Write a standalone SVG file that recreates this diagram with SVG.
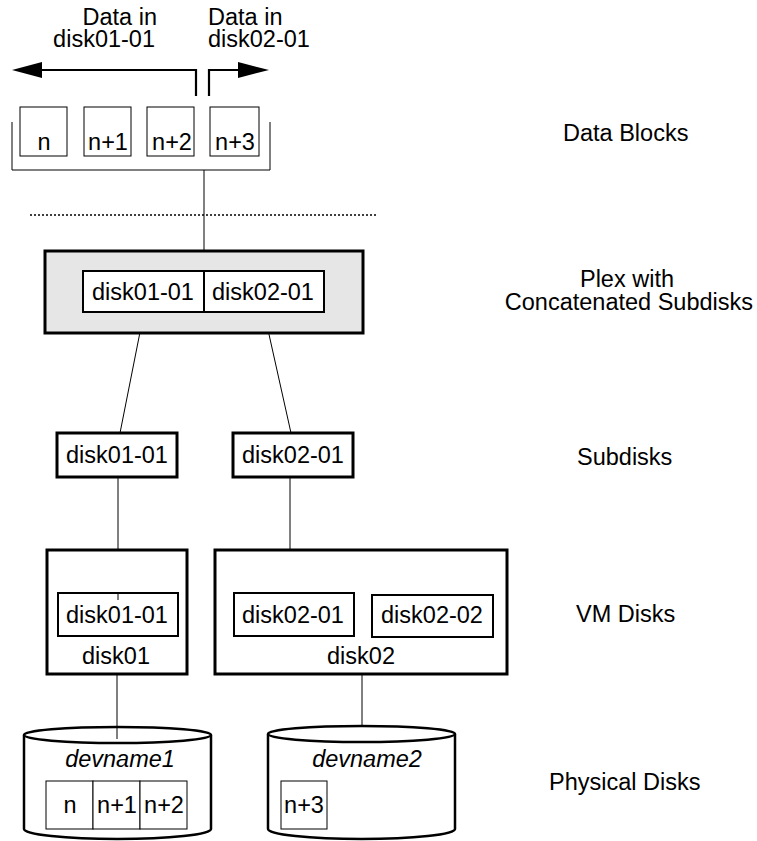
<svg xmlns="http://www.w3.org/2000/svg" width="757" height="841" viewBox="0 0 757 841">
<style>
text{font-family:"Liberation Sans",Arial,Helvetica,sans-serif;font-size:23.5px;fill:#000}
.c{text-anchor:middle}
.it{font-style:italic}
.thin{fill:#fff;stroke:#000;stroke-width:1}
.med{fill:#fff;stroke:#000;stroke-width:2}
.thick{fill:#fff;stroke:#000;stroke-width:3}
.ln{fill:none;stroke:#000;stroke-width:1}
.arr{fill:none;stroke:#000;stroke-width:2.2}
.cyl{fill:#fff;stroke:#000;stroke-width:2.5}
</style>
<rect width="757" height="841" fill="#fff"/>
<g id="connectors">
  <path class="arr" d="M196,96 V70 H40"/>
  <polygon points="12,70 42,62 42,78" fill="#000"/>
  <path class="arr" d="M209,96 V70 H240"/>
  <polygon points="269,70 238,62 238,78" fill="#000"/>
  <path class="ln" d="M12,122 V170 H270 V122"/>
  <line class="ln" x1="204" y1="170" x2="204" y2="251"/>
  <line x1="30" y1="215" x2="378" y2="215" stroke="#000" stroke-width="1.5" stroke-dasharray="2,2"/>
  <line class="ln" x1="144" y1="312" x2="120" y2="433"/>
  <line class="ln" x1="264" y1="312" x2="291" y2="433"/>
  <line class="ln" x1="118" y1="477" x2="118" y2="593"/>
  <line class="ln" x1="290" y1="477" x2="290" y2="593"/>
  <line class="ln" x1="117" y1="674" x2="117" y2="739"/>
  <line class="ln" x1="362" y1="674" x2="362" y2="726"/>
</g>
<g id="labels-top">
  <text x="157" y="25" text-anchor="end">Data in</text>
  <text x="155" y="47" text-anchor="end">disk01-01</text>
  <text x="208" y="25">Data in</text>
  <text x="208" y="47">disk02-01</text>
</g>
<g id="data-blocks">
  <rect class="thin" x="20" y="107" width="47" height="49"/>
  <text class="c" x="44" y="150">n</text>
  <rect class="thin" x="84" y="107" width="47" height="49"/>
  <text class="c" x="108" y="150">n+1</text>
  <rect class="thin" x="147" y="107" width="47" height="49"/>
  <text class="c" x="172" y="150">n+2</text>
  <rect class="thin" x="210" y="107" width="49" height="49"/>
  <text class="c" x="235" y="150">n+3</text>
</g>
<g id="plex">
  <rect x="45" y="251" width="318" height="82" fill="#e6e6e6" stroke="#000" stroke-width="3"/>
  <rect class="med" x="83" y="271" width="241" height="41"/>
  <line x1="204" y1="271" x2="204" y2="312" stroke="#000" stroke-width="2"/>
  <text class="c" x="143" y="300">disk01-01</text>
  <text class="c" x="263" y="300">disk02-01</text>
</g>
<g id="subdisk1">
  <rect class="thick" x="57" y="433" width="120" height="44"/>
  <text class="c" x="117" y="463">disk01-01</text>
</g>
<g id="subdisk2">
  <rect class="thick" x="233" y="433" width="120" height="44"/>
  <text class="c" x="293" y="463">disk02-01</text>
</g>
<g id="vmdisk1">
  <rect class="thick" x="47" y="550" width="140" height="124"/>
  <rect class="med" x="58" y="593" width="120" height="43"/>
  <line class="ln" x1="118" y1="593" x2="118" y2="600"/>
  <text class="c" x="117" y="623">disk01-01</text>
  <text class="c" x="116" y="664">disk01</text>
</g>
<g id="vmdisk2">
  <rect class="thick" x="215" y="550" width="292" height="124"/>
  <rect class="med" x="234" y="593" width="120" height="43"/>
  <text class="c" x="293" y="623">disk02-01</text>
  <rect class="med" x="372" y="595" width="121" height="42"/>
  <text class="c" x="432" y="623">disk02-02</text>
  <text class="c" x="361" y="664">disk02</text>
</g>
<g id="physdisk1">
  <path class="cyl" d="M24,735 V829 A93.5,10 0 0 0 211,829 V735"/>
  <ellipse class="cyl" cx="117.5" cy="735" rx="93.5" ry="8"/>
  <line class="ln" x1="117" y1="727" x2="117" y2="739"/>
  <text class="c it" x="120" y="767">devname1</text>
  <rect class="thin" x="46" y="781" width="47" height="48"/>
  <rect class="thin" x="93" y="781" width="47" height="48"/>
  <rect class="thin" x="140" y="781" width="47" height="48"/>
  <text class="c" x="70" y="813">n</text>
  <text class="c" x="117" y="813">n+1</text>
  <text class="c" x="164" y="813">n+2</text>
</g>
<g id="physdisk2">
  <path class="cyl" d="M268,734 V829 A93.5,10 0 0 0 455,829 V734"/>
  <ellipse class="cyl" cx="361.5" cy="734" rx="93.5" ry="8"/>
  <text class="c it" x="367" y="767">devname2</text>
  <rect class="thin" x="281" y="781" width="46" height="48"/>
  <text class="c" x="304" y="813">n+3</text>
</g>
<g id="legend">
  <text x="563" y="141">Data Blocks</text>
  <text class="c" x="627" y="287">Plex with</text>
  <text x="753" y="310" text-anchor="end">Concatenated Subdisks</text>
  <text x="577" y="465">Subdisks</text>
  <text x="576" y="622">VM Disks</text>
  <text x="549" y="790">Physical Disks</text>
</g>
</svg>
